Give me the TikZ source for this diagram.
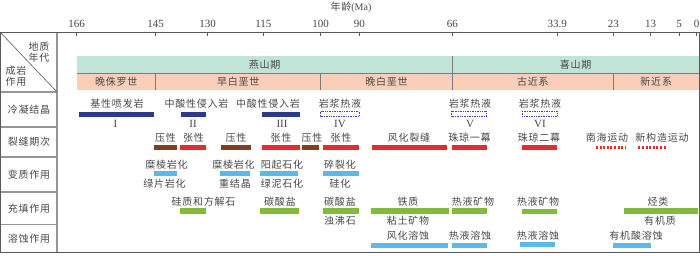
\documentclass[tikz,border=0pt]{standalone}
\usepackage{fontspec}
\setmainfont{Liberation Serif}
\newfontfamily\cjk[LetterSpace=8]{Noto Sans CJK SC}
\definecolor{txtgray}{RGB}{72,72,72}
\definecolor{framegray}{RGB}{90,90,90}
\definecolor{cellgray}{RGB}{150,150,150}
\definecolor{periodgreen}{RGB}{192,228,213}
\definecolor{epochsalmon}{RGB}{251,206,186}
\definecolor{navybar}{RGB}{44,58,138}
\definecolor{dashnavy}{RGB}{60,75,160}
\definecolor{brownbar}{RGB}{132,60,36}
\definecolor{redbar}{RGB}{228,44,44}
\definecolor{bluebar}{RGB}{92,184,230}
\definecolor{greenbar}{RGB}{132,186,58}
\newcommand\mybar[4]{\fill[#4] (#1,#3-2.7) rectangle (#2,#3+2.7);}
\newcommand\mydashbar[3]{\draw[dashnavy,line width=0.7pt,dash pattern=on 1pt off 0.7pt,fill=white] (#1,#3-2.6) rectangle (#2,#3+2.6);}
\newcommand\mydotbar[3]{\draw[redbar,line width=2.8pt,dash pattern=on 2pt off 1.6pt] (#1,#3) -- (#2,#3);}
\begin{document}
\begin{tikzpicture}[x=1pt,y=-1pt,
  lbl/.style={font=\cjk\fontsize{10}{12}\selectfont,text=txtgray,inner sep=0pt},
  num/.style={font=\fontsize{11}{12}\selectfont,text=txtgray,inner sep=0pt},
  roman/.style={font=\fontsize{11}{12}\selectfont,text=txtgray,inner sep=0pt},
  tickline/.style={framegray,line width=0.6pt},
  divider/.style={framegray!80,line width=0.6pt},
  cellline/.style={cellgray,line width=1.2pt}]
\useasboundingbox (0,0) rectangle (700,255);
\fill[white] (0,0) rectangle (700,255);
% title
\node[font=\fontsize{10}{12}\selectfont,text=txtgray,inner sep=0pt] (title) at (351,7) {{\cjk 年龄}(Ma)};
% ticks
\foreach \xx/\tt in {76.7/166,155.7/145,207.7/130,263.3/115,320.7/100,359.3/90,452.3/66,557.3/33.9,613.3/23,650.7/13,679/5,696.5/0}{
  \node[num] (t\tt) at (\xx,24) {\tt};
  \draw[tickline] (\xx,32) -- (\xx,35.5);
}
% period and epoch bars
\fill[periodgreen] (77,56) rectangle (699,73);
\fill[epochsalmon] (77,73) rectangle (699,89.5);
\draw[divider] (452.3,56) -- (452.3,89.5);
\foreach \xx in {155.7,320.7,613.3}{\draw[divider] (\xx,73) -- (\xx,89.5);}
\draw[divider] (77,73) -- (699,73);
\node[lbl] (ys) at (264.6,64.5) {燕山期};
\node[lbl] (xs) at (575.6,64.5) {喜山期};
\node[lbl] (e1) at (116.3,81.5) {晚侏罗世};
\node[lbl] (e2) at (238.2,81.5) {早白垩世};
\node[lbl] (e3) at (386.5,81.5) {晚白垩世};
\node[lbl] (e4) at (532.8,81.5) {古近系};
\node[lbl] (e5) at (656.2,81.5) {新近系};
% left column cells
\draw[cellline] (57,32) -- (57,252.5);
\foreach \yy in {92,127,157,192,224.5}{\draw[cellline] (0,\yy) -- (57,\yy);}
\draw[framegray,line width=0.6pt] (0,32) -- (57,92);
\node[lbl,align=center] (h1) at (39,52) {地质\\[-1.5pt]年代};
\node[lbl,align=center] (h2) at (16,76) {成岩\\[-1.5pt]作用};
\node[lbl] (r1) at (29,109.5) {冷凝结晶};
\node[lbl] (r2) at (29,142) {裂缝期次};
\node[lbl] (r3) at (29,174.5) {变质作用};
\node[lbl] (r4) at (29,208.3) {充填作用};
\node[lbl] (r5) at (29,238.7) {溶蚀作用};
% outer frame
\draw[framegray,line width=0.8pt] (0,32) rectangle (699,252.5);
% row 1
\mybar{79}{154}{114.2}{navybar}
\mybar{180.7}{205.7}{114.2}{navybar}
\mybar{261.7}{300}{114.2}{navybar}
\mydashbar{320.7}{359}{114.2}
\mydashbar{451.7}{486.7}{113.5}
\mydashbar{522.3}{557.3}{113.5}
\node[lbl] (a1) at (117,103.5) {基性喷发岩};
\node[lbl] (a2) at (196.5,103.5) {中酸性侵入岩};
\node[lbl] (a3) at (268,103.5) {中酸性侵入岩};
\node[lbl] (a4) at (340,103.5) {岩浆热液};
\node[lbl] (a5) at (470,104) {岩浆热液};
\node[lbl] (a6) at (540,104) {岩浆热液};
\node[roman] (ra1) at (115.5,123.5) {I};
\node[roman] (ra2) at (193,123.5) {II};
\node[roman] (ra3) at (282,123.5) {III};
\node[roman] (ra4) at (340,123.5) {IV};
\node[roman] (ra5) at (470,123.5) {V};
\node[roman] (ra6) at (540,123.5) {VI};
% row 2
\mybar{154}{177.3}{147.5}{brownbar}
\mybar{180.3}{206.3}{147.5}{redbar}
\mybar{221}{250.7}{147.5}{brownbar}
\mybar{262}{300}{147.5}{redbar}
\mybar{302}{319}{147.5}{brownbar}
\mybar{322.5}{359.3}{147.5}{redbar}
\mybar{371.5}{447}{147.5}{redbar}
\mybar{451.7}{487.3}{147.5}{redbar}
\mybar{521.7}{556.7}{147.5}{redbar}
\mydotbar{596}{625}{147.5}
\mydotbar{638.3}{666.7}{147.5}
\node[lbl] (b1) at (165.5,138) {压性};
\node[lbl] (b2) at (193.5,138) {张性};
\node[lbl] (b3) at (236,138) {压性};
\node[lbl] (b4) at (281,138) {张性};
\node[lbl] (b5) at (312,138) {压性};
\node[lbl] (b6) at (341,138) {张性};
\node[lbl] (b7) at (409,138) {风化裂缝};
\node[lbl] (b8) at (469.5,138) {珠琼一幕};
\node[lbl] (b9) at (539,138) {珠琼二幕};
\node[lbl] (b10) at (607,138) {南海运动};
\node[lbl] (b11) at (662,138) {新构造运动};
% row 3
\mybar{154}{177}{173.5}{bluebar}
\mybar{220}{250}{173.5}{bluebar}
\mybar{260}{297.7}{173.5}{bluebar}
\mybar{322.7}{359}{173.5}{bluebar}
\node[lbl] (c1) at (166.5,164.5) {糜棱岩化};
\node[lbl] (c2) at (164.5,184) {绿片岩化};
\node[lbl] (c3) at (233.5,164.5) {糜棱岩化};
\node[lbl] (c4) at (235,184) {重结晶};
\node[lbl] (c5) at (282,164.5) {阳起石化};
\node[lbl] (c6) at (282,184) {绿泥石化};
\node[lbl] (c7) at (340,164.5) {碎裂化};
\node[lbl] (c8) at (340,184) {硅化};
% row 4
\mybar{180}{206}{210.8}{greenbar}
\mybar{260}{299.3}{210.8}{greenbar}
\mybar{322.7}{359}{210.8}{greenbar}
\mybar{371}{449}{210.8}{greenbar}
\mybar{451.7}{487.3}{210.8}{greenbar}
\mybar{522.3}{557.3}{211.5}{greenbar}
\mybar{624}{697.7}{210.8}{greenbar}
\node[lbl] (d1) at (203.5,201.5) {硅质和方解石};
\node[lbl] (d2) at (280,201.5) {碳酸盐};
\node[lbl] (d3) at (340,201.5) {碳酸盐};
\node[lbl] (d4) at (340,220.5) {浊沸石};
\node[lbl] (d5) at (408,201.5) {铁质};
\node[lbl] (d6) at (408,220.5) {粘土矿物};
\node[lbl] (d7) at (473,201.5) {热液矿物};
\node[lbl] (d8) at (538,201.5) {热液矿物};
\node[lbl] (d9) at (658,201.5) {烃类};
\node[lbl] (d10) at (660,220.5) {有机质};
% row 5
\mybar{371}{448.3}{245.3}{bluebar}
\mybar{451.7}{487.3}{245.3}{bluebar}
\mybar{520}{555}{244.5}{bluebar}
\mybar{613.3}{650.7}{245.3}{bluebar}
\node[lbl] (f1) at (408,236) {风化溶蚀};
\node[lbl] (f2) at (470,236) {热液溶蚀};
\node[lbl] (f3) at (538,235.5) {热液溶蚀};
\node[lbl] (f4) at (636,236) {有机酸溶蚀};
\end{tikzpicture}
\end{document}
